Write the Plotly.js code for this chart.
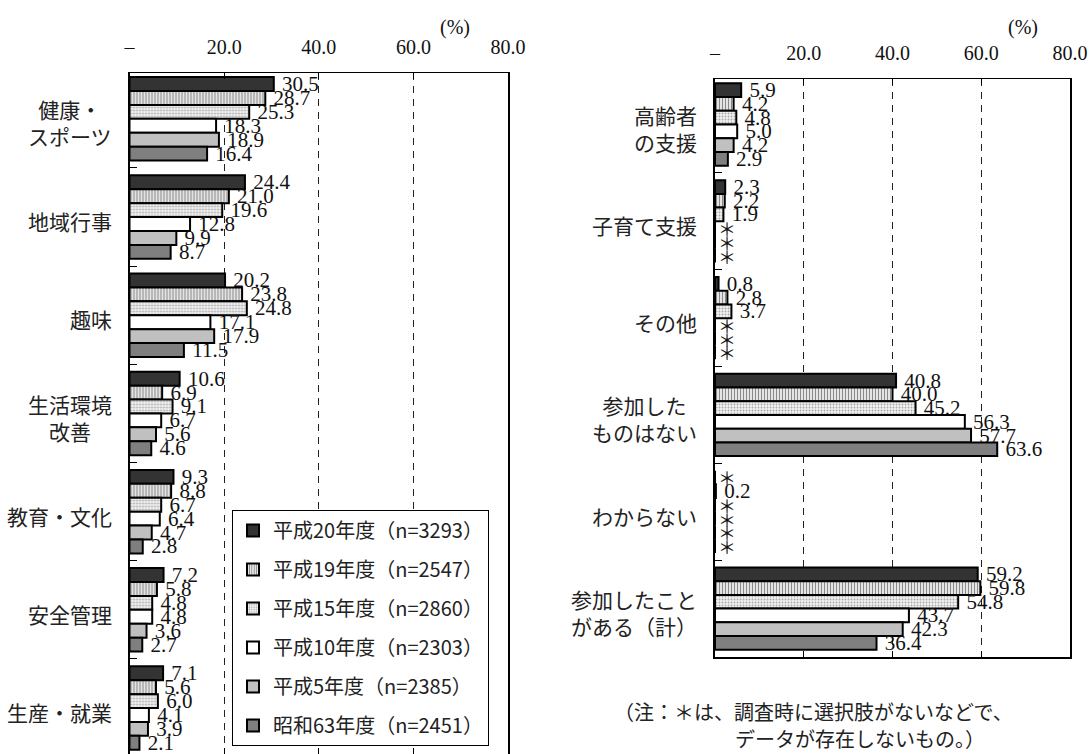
<!DOCTYPE html>
<html>
<head>
<meta charset="utf-8">
<script src="https://cdn.plot.ly/plotly-3.0.1.min.js"></script>
<style>html,body{margin:0;padding:0;background:#fff;}#chart{width:1092px;height:754px;}</style>
</head>
<body>
<div id="chart"></div>
<script>
// ---- data ----
const seriesNames = ['平成20年度（n=3293）','平成19年度（n=2547）','平成15年度（n=2860）','平成10年度（n=2303）','平成5年度（n=2385）','昭和63年度（n=2451）'];
const leftCategories = ['健康・スポーツ','地域行事','趣味','生活環境改善','教育・文化','安全管理','生産・就業'];
const leftLabels = ['健康・<br>スポーツ','地域行事','趣味','生活環境<br>改善','教育・文化','安全管理','生産・就業'];
const rightCategories = ['高齢者の支援','子育て支援','その他','参加したものはない','わからない','参加したことがある（計）'];
const rightLabels = ['高齢者<br>の支援','子育て支援','その他','参加した<br>ものはない','わからない','参加したこと<br>がある（計）'];

const h20Left = [30.5, 24.4, 20.2, 10.6, 9.3, 7.2, 7.1];
const h19Left = [28.7, 21.0, 23.8, 6.9, 8.8, 5.8, 5.6];
const h15Left = [25.3, 19.6, 24.8, 9.1, 6.7, 4.8, 6.0];
const h10Left = [18.3, 12.8, 17.1, 6.7, 6.4, 4.8, 4.1];
const h5Left  = [18.9, 9.9, 17.9, 5.6, 4.7, 3.6, 3.9];
const s63Left = [16.4, 8.7, 11.5, 4.6, 2.8, 2.7, 2.1];

const h20Right = [5.9, 2.3, 0.8, 40.8, null, 59.2];
const h19Right = [4.2, 2.2, 2.8, 40.0, 0.2, 59.8];
const h15Right = [4.8, 1.9, 3.7, 45.2, null, 54.8];
const h10Right = [5.0, null, null, 56.3, null, 43.7];
const h5Right  = [4.2, null, null, 57.7, null, 42.3];
const s63Right = [2.9, null, null, 63.6, null, 36.4];

const tickVals = [0, 20, 40, 60, 80];
const tickText = ['–', '20.0', '40.0', '60.0', '80.0'];
const unitLabel = '(%)';
const noteLines = ['（注：＊は、調査時に選択肢がないなどで、', 'データが存在しないもの。）'];

// ---- styles ----
const W = 1092, H = 754;
const px = v => v / W;
const py = v => 1 - v / H;
const serif = '"Liberation Serif"';
const cjk = '"Noto Sans CJK JP"';
const markers = [
  {color:'#333333'},
  {color:'#d0d0d0', pattern:{shape:'|', fgcolor:'#8a8a8a', bgcolor:'#e4e4e4', size:3, solidity:0.35}},
  {color:'#e6e6e6', pattern:{shape:'.', fgcolor:'#a8a8a8', bgcolor:'#f2f2f2', size:3, solidity:0.3}},
  {color:'#ffffff'},
  {color:'#c0c0c0'},
  {color:'#7f7f7f'}
];
const leftSeries = [h20Left, h19Left, h15Left, h10Left, h5Left, s63Left];
const rightSeries = [h20Right, h19Right, h15Right, h10Right, h5Right, s63Right];

function barTrace(vals, cats, i, xa, ya, showLeg) {
  return {
    type:'bar', orientation:'h',
    x: vals.map(v => v === null ? 0 : v),
    y: cats,
    xaxis: xa, yaxis: ya,
    name: seriesNames[i],
    legendgroup: 'g' + i,
    showlegend: showLeg,
    marker: Object.assign({}, markers[i], {line:{color:'#000', width:2}}),
    text: vals.map(v => v === null ? '＊' : '\u00A0' + v.toFixed(1)),
    textposition:'outside',
    constraintext:'none',
    cliponaxis:false,
    textfont:{
      family: vals.map(v => v === null ? cjk : serif),
      size: vals.map(v => v === null ? 18 : 21),
      color:'#111'
    },
    hoverinfo:'skip'
  };
}

const traces = [];
leftSeries.forEach((s, i) => traces.push(barTrace(s, leftCategories, i, 'x', 'y', true)));
rightSeries.forEach((s, i) => traces.push(barTrace(s, rightCategories, i, 'x2', 'y2', false)));

function xAxis(dom, anchor) {
  return {
    domain: dom, anchor: anchor, side:'top', range:[0,80], autorange:false,
    tickmode:'array', tickvals: tickVals, ticktext: tickText,
    ticks:'inside', ticklen:6, tickcolor:'#000', tickwidth:1,
    showline:true, linecolor:'#000', linewidth:1.5, mirror:'ticks',
    showgrid:true, gridcolor:'#222', gridwidth:1, griddash:'7px,6px',
    zeroline:false,
    tickfont:{family: serif, size:20, color:'#111'},
    ticklabelstandoff: 10,
    fixedrange:true
  };
}
function yAxis(dom, anchor, cats, range) {
  return {
    domain: dom, anchor: anchor, type:'category',
    categoryorder:'array', categoryarray: cats,
    range: range, autorange:false,
    tickson:'boundaries', ticks:'inside', ticklen:7, tickcolor:'#000', tickwidth:1,
    showticklabels:false, showgrid:false, zeroline:false,
    showline:true, linecolor:'#000', linewidth:2, mirror:true,
    fixedrange:true
  };
}

const annotations = [];
leftCategories.forEach((c, i) => annotations.push({
  xref:'paper', x: px(129.5), xanchor:'right', xshift:-16,
  yref:'y', y: c, yanchor:'middle', yshift:-4,
  text: leftLabels[i], showarrow:false, align:'center',
  font:{family: cjk, size:21, color:'#222'}
}));
rightCategories.forEach((c, i) => annotations.push({
  xref:'paper', x: px(715), xanchor:'right', xshift:-16,
  yref:'y2', y: c, yanchor:'middle', yshift:-4,
  text: rightLabels[i], showarrow:false, align:'center',
  font:{family: cjk, size:21, color:'#222'}
}));
annotations.push({xref:'paper', yref:'paper', x: px(455), y: py(27), xanchor:'center', yanchor:'middle', text: unitLabel, showarrow:false, font:{family: serif, size:20, color:'#111'}});
annotations.push({xref:'paper', yref:'paper', x: px(1023), y: py(27), xanchor:'center', yanchor:'middle', text: unitLabel, showarrow:false, font:{family: serif, size:20, color:'#111'}});
annotations.push({xref:'paper', yref:'paper', x: px(612), y: py(711), xanchor:'left', yanchor:'middle', text: noteLines[0], showarrow:false, font:{family: cjk, size:20, color:'#222'}});
annotations.push({xref:'paper', yref:'paper', x: px(733), y: py(738), xanchor:'left', yanchor:'middle', text: noteLines[1], showarrow:false, font:{family: cjk, size:20, color:'#222'}});

const layout = {
  width: W, height: H,
  margin:{l:0, r:0, t:0, b:0},
  paper_bgcolor:'#fff', plot_bgcolor:'#fff',
  barmode:'group', bargap:0.15, bargroupgap:0,
  showlegend:true,
  legend:{
    x: px(232), y: py(510), xanchor:'left', yanchor:'top',
    bgcolor:'#fff', bordercolor:'#000', borderwidth:1,
    font:{family: cjk, size:20, color:'#222'},
    traceorder:'grouped', tracegroupgap:10
  },
  xaxis: xAxis([px(129.5), px(508)], 'y'),
  yaxis: yAxis([0, py(73)], 'x', leftCategories, [6.468, -0.467]),
  xaxis2: xAxis([px(715), px(1070)], 'y2'),
  yaxis2: yAxis([py(657), py(79)], 'x2', rightCategories, [5.5, -0.47]),
  annotations: annotations
};

Plotly.newPlot('chart', traces, layout, {displayModeBar:false, staticPlot:true});
</script>
</body>
</html>
